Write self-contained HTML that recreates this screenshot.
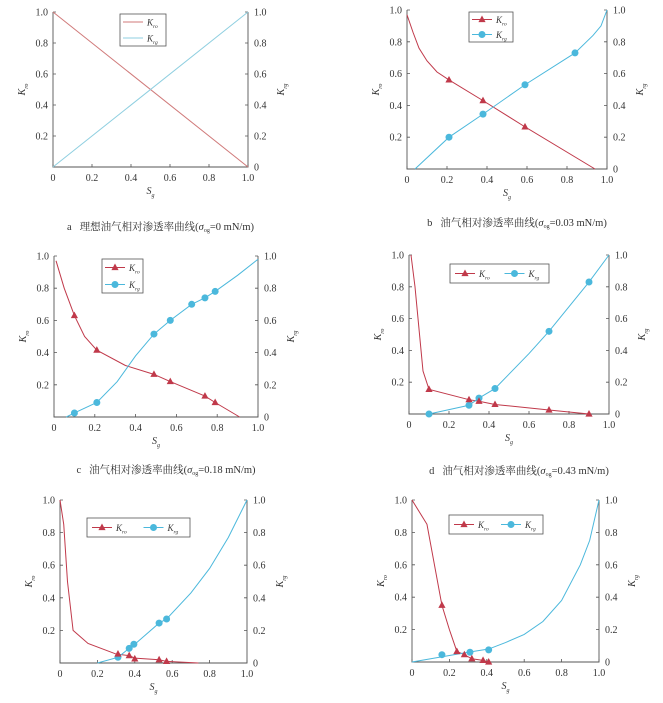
<!DOCTYPE html>
<html><head><meta charset="utf-8"><style>
html,body{margin:0;padding:0;background:#fff;width:663px;height:703px;overflow:hidden}
svg{display:block}
text{font-family:"Liberation Serif","Noto Serif CJK SC",serif;fill:#333}
</style></head><body>
<svg id="s" width="663" height="703" viewBox="0 0 663 703" xmlns="http://www.w3.org/2000/svg"></svg>
<script>
const R="#c0394a",B="#4bb8dc";
const P=[
{b:[53,248,12,167],lg:[120,166,14,46,'v',0],o:[[0,1],[1,0]],g:[[0,0],[1,1]],om:[],gm:[],oc:"#d07a7a",gc:"#8fcfe0",cap:["a","理想油气相对渗透率曲线(","σ","og","=0 mN/m)"],cy:226},
{b:[407,607,10,169],lg:[469,513,12,42,'v',1],o:[[0,.97],[.03,.86],[.06,.76],[.1,.68],[.15,.61],[.21,.56],[.38,.43],[.59,.265],[.94,0]],om:[[.21,.56],[.38,.43],[.59,.265]],
 g:[[.04,0],[.21,.2],[.38,.345],[.59,.53],[.84,.73],[.93,.84],[.97,.9],[1,1]],gm:[[.21,.2],[.38,.345],[.59,.53],[.84,.73]],cap:["b","油气相对渗透率曲线(","σ","og","=0.03 mN/m)"],cy:222},
{b:[54,258,256,417],lg:[102,143,259,293,'v',1],o:[[.01,.97],[.05,.8],[.1,.63],[.15,.5],[.21,.415],[.35,.32],[.49,.265],[.57,.22],[.74,.13],[.79,.09],[.91,0]],om:[[.1,.63],[.21,.415],[.49,.265],[.57,.22],[.74,.13],[.79,.09]],
 g:[[.06,0],[.1,.025],[.21,.09],[.31,.22],[.4,.38],[.49,.515],[.57,.6],[.675,.7],[.74,.74],[.79,.78],[.9,.88],[1,.98]],gm:[[.1,.025],[.21,.09],[.49,.515],[.57,.6],[.675,.7],[.74,.74],[.79,.78]],cap:["c","油气相对渗透率曲线(","σ","og","=0.18 mN/m)"],cy:469},
{b:[409,609,255,414],lg:[450,549,264,283,'h',1],o:[[.01,1],[.03,.8],[.07,.27],[.1,.155],[.3,.09],[.35,.08],[.43,.06],[.7,.025],[.9,0]],om:[[.1,.155],[.3,.09],[.35,.08],[.43,.06],[.7,.025],[.9,0]],
 g:[[.1,0],[.3,.055],[.35,.1],[.43,.16],[.6,.38],[.7,.52],[.9,.83],[1,1]],gm:[[.1,0],[.3,.055],[.35,.1],[.43,.16],[.7,.52],[.9,.83]],cap:["d","油气相对渗透率曲线(","σ","og","=0.43 mN/m)"],cy:470},
{b:[60,247,500,663],lg:[87,190,518,537,'h',1],o:[[0,1],[.02,.85],[.04,.5],[.07,.2],[.15,.12],[.3,.055],[.37,.045],[.4,.03],[.53,.02],[.57,.01],[.74,0]],om:[[.31,.055],[.37,.045],[.4,.025],[.53,.02],[.57,.01]],
 g:[[.2,0],[.31,.035],[.37,.09],[.4,.115],[.53,.245],[.57,.27],[.7,.43],[.8,.58],[.9,.77],[1,1]],gm:[[.31,.035],[.37,.09],[.395,.115],[.53,.245],[.57,.27]]},
{b:[412,599,500,662],lg:[449,543,515,534,'h',1],o:[[0,1],[.08,.85],[.16,.35],[.2,.2],[.24,.065],[.28,.045],[.32,.02],[.38,.01],[.41,0]],om:[[.16,.35],[.24,.065],[.28,.045],[.32,.02],[.38,.01],[.41,0]],
 g:[[0,0],[.2,.04],[.3,.06],[.41,.08],[.5,.12],[.6,.17],[.7,.25],[.8,.38],[.9,.6],[.95,.75],[1,1]],gm:[[.16,.045],[.31,.06],[.41,.075]]}
];
let h="";
const t=(x,y,s,a,sz,ex)=>`<text x="${x}" y="${y}" font-size="${sz||10}" text-anchor="${a||'start'}" ${ex||''}>${s}</text>`;
const tri=(x,y,c)=>`<polygon points="${x},${y-4} ${x-3.6},${y+2.6} ${x+3.6},${y+2.6}" fill="${c}"/>`;
const cir=(x,y,c)=>`<circle cx="${x}" cy="${y}" r="3.5" fill="${c}"/>`;
for(const p of P){
 const [x0,x1,y0,y1]=p.b;const X=v=>x0+v*(x1-x0),Y=v=>y1-v*(y1-y0);
 h+=`<path d="M${x0},${y0}V${y1}H${x1}V${y0}" fill="none" stroke="#555" stroke-width="0.9"/>`;
 for(let i=0;i<=5;i++){const v=i/5,lab=i==0?"0":i==5?"1.0":v.toFixed(1);
  h+=`<path d="M${X(v)},${y1}v-3M${x0},${Y(v)}h3M${x1},${Y(v)}h-3" stroke="#555" stroke-width="0.8"/>`;
  h+=t(X(v),y1+14,i==0?"0":lab,"middle");
  if(i>0)h+=t(x0-5,Y(v)+3.5,lab,"end");
  h+=t(x1+6,Y(v)+3.5,lab,"start");
 }
 h+=`<text x="${(x0+x1)/2}" y="${y1+27}" font-size="10" font-style="italic" text-anchor="middle">S<tspan font-size="6" dy="3">g</tspan></text>`;
 const my=(y0+y1)/2;
 h+=`<text transform="translate(${x0-28},${my}) rotate(-90)" font-size="10" font-style="italic" text-anchor="middle">K<tspan font-size="6" dy="3">ro</tspan></text>`;
 h+=`<text transform="translate(${x1+36},${my}) rotate(-90)" font-size="10" font-style="italic" text-anchor="middle">K<tspan font-size="6" dy="3">rg</tspan></text>`;
 const oc=p.oc||R,gc=p.gc||B;
 h+=`<polyline points="${p.o.map(a=>X(a[0])+','+Y(a[1])).join(' ')}" fill="none" stroke="${oc}" stroke-width="1"/>`;
 h+=`<polyline points="${p.g.map(a=>X(a[0])+','+Y(a[1])).join(' ')}" fill="none" stroke="${gc}" stroke-width="1"/>`;
 for(const m of p.gm)h+=cir(X(m[0]),Y(m[1]),gc);
 for(const m of p.om)h+=tri(X(m[0]),Y(m[1]),oc);
 const [lx0,lx1,ly0,ly1,o,mk]=p.lg;
 h+=`<rect x="${lx0}" y="${ly0}" width="${lx1-lx0}" height="${ly1-ly0}" fill="#fff" stroke="#555" stroke-width="0.8"/>`;
 const ent=(x,y,c,n,isT)=>{let s=`<line x1="${x}" y1="${y}" x2="${x+20}" y2="${y}" stroke="${c}" stroke-width="1"/>`;
  if(mk)s+=isT?tri(x+10,y,c):cir(x+10,y,c);
  s+=`<text x="${x+24}" y="${y+3.5}" font-size="9" font-style="italic">K<tspan font-size="5.5" dy="2.5">${n}</tspan></text>`;return s;};
 if(o=='v'){const yy=(ly1-ly0)/4;h+=ent(lx0+3,ly0+yy,oc,"ro",1)+ent(lx0+3,ly0+3*yy,gc,"rg",0);}
 else{const yc=(ly0+ly1)/2,w=(lx1-lx0)/2;h+=ent(lx0+5,yc,oc,"ro",1)+ent(lx0+w+5,yc,gc,"rg",0);}
 if(p.cap){const c=p.cap;h+=`<text x="${(x0+x1)/2+10}" y="${p.cy+4}" font-size="10.5" text-anchor="middle">${c[0]}<tspan dx="8">${c[1]}</tspan><tspan font-style="italic">${c[2]}</tspan><tspan font-size="6" dy="2">${c[3]}</tspan><tspan dy="-2">${c[4]}</tspan></text>`;}
}
document.getElementById("s").innerHTML=h;
</script>
</body></html>
